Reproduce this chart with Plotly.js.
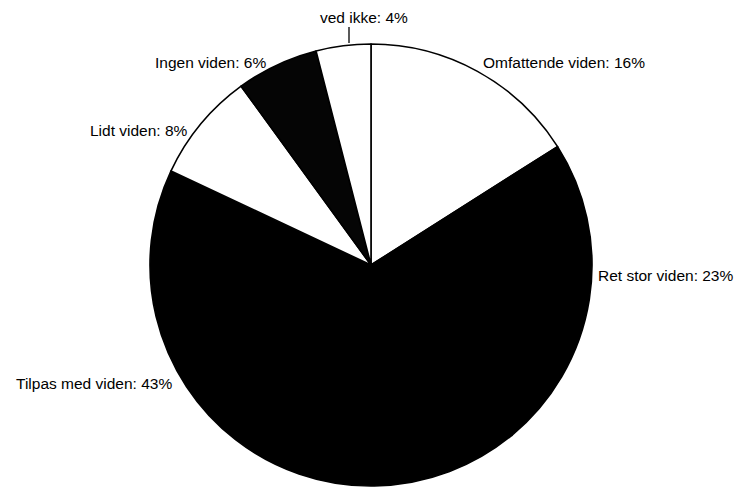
<!DOCTYPE html>
<html>
<head>
<meta charset="utf-8">
<script src="https://cdn.plot.ly/plotly-3.0.1.min.js"></script>
<style>
  html, body { margin: 0; padding: 0; background: #fff; }
  #chart { width: 734px; height: 488px; }
</style>
</head>
<body>
<div id="chart"></div>
<script>
// Kendskab – fordeling af svar (procent), i urets retning fra kl. 12
const categories = ['Omfattende viden', 'Ret stor viden', 'Tilpas med viden', 'Lidt viden', 'Ingen viden', 'ved ikke'];
const shares = [16, 23, 43, 8, 6, 4];
const sliceColors = ['#ffffff', '#000000', '#000000', '#ffffff', '#050505', '#ffffff'];

// Label placement in pixels: [x, y, anchor]
const labelPos = [
  [481, 63, 'left'],
  [596, 275, 'left'],
  [174, 383, 'right'],
  [190, 130, 'right'],
  [268, 63, 'right'],
  [364, 18, 'center']
];

const W = 734, H = 488;
const cx = 371, cy = 265, r = 221;

const trace = {
  type: 'pie',
  labels: categories,
  values: shares,
  sort: false,
  direction: 'clockwise',
  rotation: 0,
  textinfo: 'none',
  hoverinfo: 'label+percent',
  marker: { colors: sliceColors, line: { color: '#000000', width: 1.6 } },
  domain: {
    x: [(cx - r) / W, (cx + r) / W],
    y: [(H - cy - r) / H, (H - cy + r) / H]
  },
  showlegend: false
};

const annotations = categories.map((c, i) => ({
  xref: 'paper', yref: 'paper',
  x: labelPos[i][0] / W,
  y: 1 - labelPos[i][1] / H,
  xanchor: labelPos[i][2],
  yanchor: 'middle',
  text: c + ': ' + shares[i] + '%',
  showarrow: false,
  font: { family: 'Liberation Sans, Arial, sans-serif', size: 15.5, color: '#000' }
}));

const layout = {
  width: W, height: H,
  margin: { l: 0, r: 0, t: 0, b: 0 },
  paper_bgcolor: '#ffffff',
  annotations: annotations,
  shapes: [{
    type: 'line', xref: 'paper', yref: 'paper',
    x0: 349 / W, x1: 349 / W, y0: 1 - 27 / H, y1: 1 - 43 / H,
    line: { color: '#000', width: 1.3 }
  }]
};

Plotly.newPlot('chart', [trace], layout, { displayModeBar: false, staticPlot: true });
</script>
</body>
</html>
